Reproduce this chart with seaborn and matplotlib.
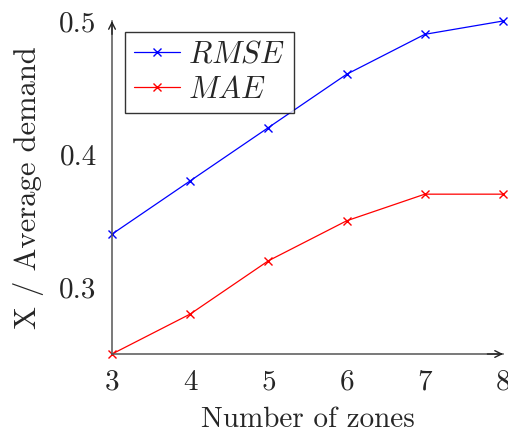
import matplotlib
matplotlib.use("Agg")
import matplotlib.pyplot as plt
import seaborn as sns
import pandas as pd

# data
zones = [3, 4, 5, 6, 7, 8]
rmse = [0.34, 0.38, 0.42, 0.46, 0.49, 0.50]
mae = [0.25, 0.28, 0.32, 0.35, 0.37, 0.37]
x_ticks = [3, 4, 5, 6, 7, 8]
y_ticks = [0.3, 0.4, 0.5]

sns.set_style("white")
plt.rcParams["font.family"] = ["cmr10", "DejaVu Serif"]
plt.rcParams["mathtext.fontset"] = "cm"
plt.rcParams["axes.unicode_minus"] = False

df = pd.DataFrame({
    "zones": zones * 2,
    "value": rmse + mae,
    "metric": [r"$RMSE$"] * len(zones) + [r"$MAE$"] * len(zones),
})

fig = plt.figure(figsize=(5.08, 4.34), dpi=100)
ax = fig.add_axes([0.2205, 0.1843, 0.7697, 0.7673])

sns.lineplot(data=df, x="zones", y="value", hue="metric",
             palette={r"$RMSE$": "blue", r"$MAE$": "red"},
             marker="x", markersize=6, markeredgewidth=1.0,
             linewidth=0.9, ax=ax, clip_on=False)

# seaborn paints marker edges white, give them the line colour
for line in ax.get_lines():
    line.set_markeredgecolor(line.get_color())

ax.set_xlim(3, 8)
ax.set_ylim(0.25, 0.5)
ax.set_xticks(x_ticks)
ax.set_yticks(y_ticks)
ax.set_xticklabels([str(t) for t in x_ticks])
ax.set_yticklabels([str(t) for t in y_ticks])

axis_col = "#555555"
for side in ["top", "right"]:
    ax.spines[side].set_visible(False)
for side in ["left", "bottom"]:
    ax.spines[side].set_color(axis_col)
    ax.spines[side].set_linewidth(1.1)

# arrow heads on the axis lines
arrow = dict(arrowstyle="->", color="#222222", lw=1.0, shrinkA=0, shrinkB=0,
             mutation_scale=12)
ax.annotate("", xy=(1.0, 0), xytext=(0.96, 0), xycoords="axes fraction",
            arrowprops=arrow, annotation_clip=False)
ax.annotate("", xy=(0, 1.0), xytext=(0, 0.96), xycoords="axes fraction",
            arrowprops=arrow, annotation_clip=False)

ax.tick_params(direction="inout", length=8, width=0.8, color=axis_col,
               labelsize=21, pad=7)

ax.set_xlabel("Number of zones", fontsize=21, labelpad=8)
ax.set_ylabel("X / Average demand", fontsize=22, labelpad=11)

leg = ax.legend(loc="upper left", bbox_to_anchor=(0.0335, 0.967), fontsize=22,
                frameon=True, fancybox=False, edgecolor="black",
                handlelength=1.5, handletextpad=0.25, borderpad=0.3,
                labelspacing=0.25, borderaxespad=0)
leg.get_frame().set_linewidth(1.0)
for h in leg.legend_handles:
    h.set_markeredgecolor(h.get_color())

fig.savefig("out.png", dpi=100)
